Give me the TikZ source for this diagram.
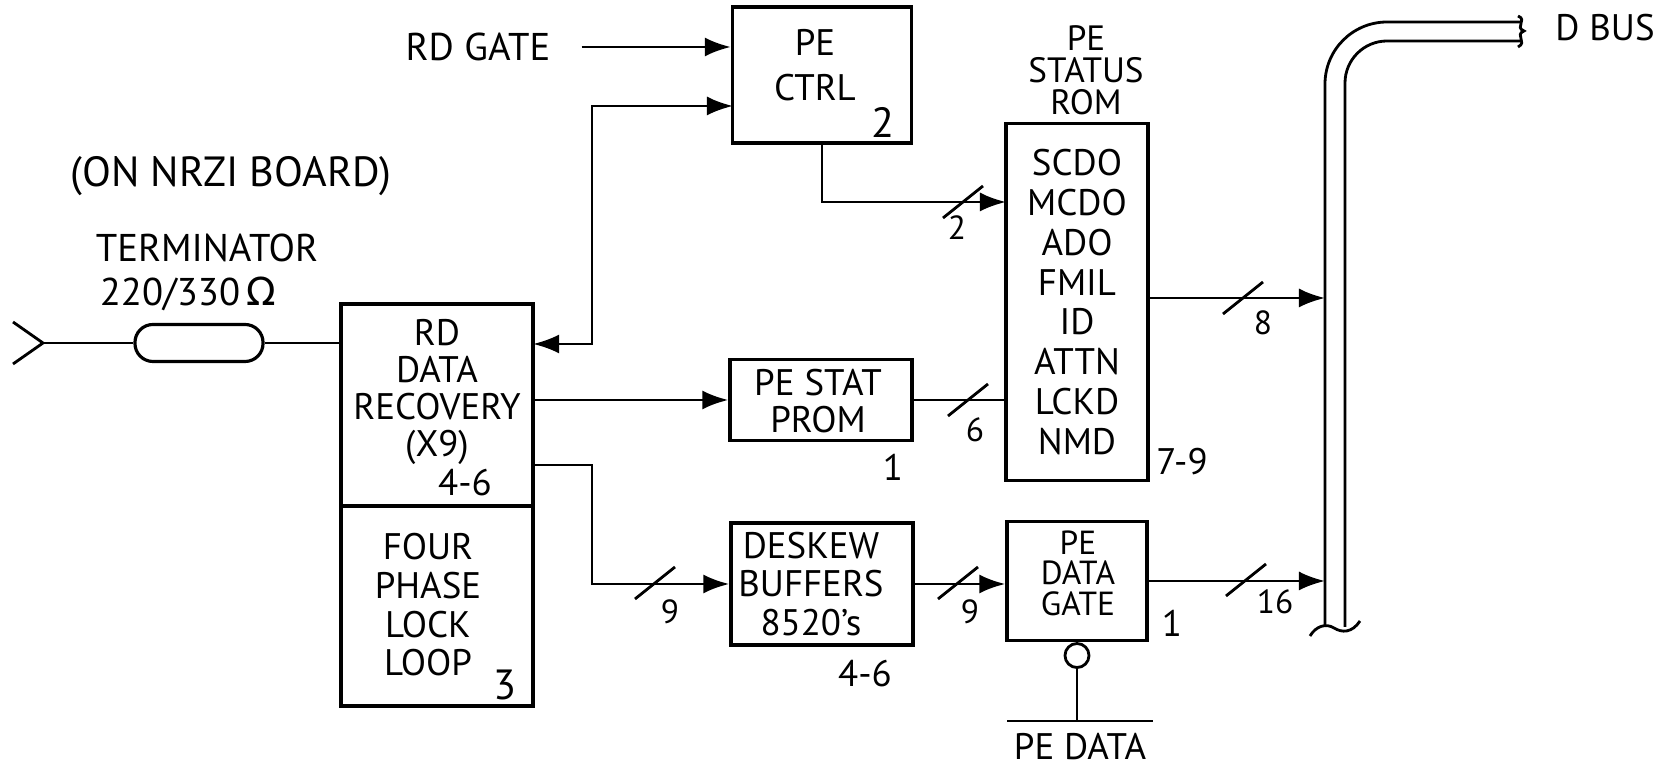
\documentclass[tikz,border=0pt]{standalone}
\usepackage{fontspec}
\setmainfont{PT Sans}
\newfontfamily\omegafont{DejaVu Sans}
\usetikzlibrary{arrows.meta}

\begin{document}
\begin{tikzpicture}[
  x=0.01cm, y=-0.01cm,
  >={Latex[length=2.6mm,width=1.9mm]},
  line width=0.8pt,
  blk/.style={draw, line width=0.9pt, inner sep=0pt},
  txt/.style={align=center, inner sep=0pt, font=\fontsize{10.5}{10.5}\selectfont},
  num/.style={inner sep=0pt, font=\fontsize{10.5}{12}\selectfont},
  bits/.style={inner sep=0pt, font=\fontsize{9.5}{11}\selectfont},
  lbl/.style={inner sep=0pt, font=\fontsize{11}{13}\selectfont},
  sig/.style={->},
  buswd/.pic={\draw (-20,16) -- (20,-16);}
]
  \useasboundingbox (0,0) rectangle (1669,771);

  \node[lbl, font=\fontsize{12}{14}\selectfont] (board) at (231,176) {(ON NRZI BOARD)};
  \node[lbl] (termlbl) at (207,248) {TERMINATOR};
  \node[lbl] (ohms) at (188,294) {220/330\,{\omegafont Ω}};

  \coordinate (inp) at (43,343);
  \draw (13,322) -- (inp) -- (13,364);
  \node[blk, rounded corners=1.8mm, minimum width=1.28cm, minimum height=0.37cm] (term) at (199,343) {};

  \node[blk, minimum width=1.92cm, minimum height=2.02cm] (rdrec) at (437,405) {};
  \node[blk, minimum width=1.92cm, minimum height=2.00cm] (pll) at (437,606) {};
  \node[txt] (rdtxt) at (437,392) {RD\\DATA\\RECOVERY\\(X9)};
  \node[num] (rdnum) at (465,483) {4-6};
  \node[txt, font=\fontsize{10.5}{11}\selectfont] (plltxt) at (428,605) {FOUR\\PHASE\\LOCK\\LOOP};
  \node[num, font=\fontsize{12}{14}\selectfont] (pllnum) at (505,685) {3};
  \draw (inp) -- (term.west);
  \draw (term.east) -- (term.east -| rdrec.west);

  \node[lbl] (rdgate) at (478,47) {RD GATE};
  \node[blk, minimum width=1.79cm, minimum height=1.36cm] (pectrl) at (822,75) {};
  \node[txt, font=\fontsize{10.5}{12.8}\selectfont] (ctrltxt) at (815,65) {PE\\CTRL};
  \node[num, font=\fontsize{12}{14}\selectfont] (ctrlnum) at (883,122) {2};
  \draw[sig, shorten <=0.3cm] (rdgate.east) -- (rdgate.east -| pectrl.west);
  \coordinate (rdport) at (533,344);
  \coordinate (ctlport) at (733,106);
  \draw[<->] (rdport) -- ++(59,0) |- (ctlport);

  \node[txt, font=\fontsize{10}{9.1}\selectfont] (romttl) at (1086,70) {PE\\STATUS\\ROM};
  \node[blk, minimum width=1.42cm, minimum height=3.57cm] (rom) at (1077,302) {};
  \node[txt, font=\fontsize{10.5}{11.3}\selectfont] (romtxt) at (1077,302) {SCDO\\MCDO\\ADO\\FMIL\\ID\\ATTN\\LCKD\\NMD};
  \node[num] (romnum) at (1182,462) {7-9};
  \coordinate (romin) at (1006,202);
  \draw[sig] (pectrl.south) |- (romin);
  \pic at (963,202) {buswd};
  \node[bits] (w2) at (957,228) {2};

  \node[blk, minimum width=1.82cm, minimum height=0.81cm] (prom) at (821,400) {};
  \node[txt] (promtxt) at (818,401) {PE STAT\\PROM};
  \node[num] (promnum) at (893,467) {1};
  \draw[sig] (rdrec.east |- prom.west) -- (prom.west);
  \draw (prom.east) -- (prom.east -| rom.west);
  \pic at (968,400) {buswd};
  \node[bits] (w6) at (975,430) {6};

  \node[blk, minimum width=1.82cm, minimum height=1.22cm] (deskew) at (822,584) {};
  \node[txt, font=\fontsize{10.5}{10.9}\selectfont] (dsktxt) at (811,584) {DESKEW\\BUFFERS\\8520's};
  \node[num] (dsknum) at (865,674) {4-6};
  \coordinate (rdout) at (533,465);
  \draw[sig] (rdout) -- ++(59,0) |- (deskew.west);
  \pic at (655,583) {buswd};
  \node[bits] (w9a) at (670,612) {9};

  \node[blk, minimum width=1.40cm, minimum height=1.19cm] (gate) at (1077,581) {};
  \node[txt, font=\fontsize{9.5}{8.7}\selectfont] (gatetxt) at (1078,573) {PE\\DATA\\GATE};
  \node[num] (gatenum) at (1172,623) {1};
  \draw[sig] (deskew.east) -- (deskew.east -| gate.west);
  \pic at (958,583) {buswd};
  \node[bits] (w9b) at (970,612) {9};
  \node[draw, circle, minimum size=0.24cm, inner sep=0pt, anchor=north] (neg) at (gate.south) {};
  \coordinate (barL) at (1007,721);
  \coordinate (barR) at (1153,721);
  \draw (barL) -- (barR);
  \draw (neg.south) -- (neg.south |- barL);
  \node[lbl, font=\fontsize{10.5}{12}\selectfont] (pedata) at (1080,747) {PE DATA};

  \draw[rounded corners=0.62cm] (1325,627) -- (1325,22) -- (1520,22);
  \draw[rounded corners=0.42cm] (1345,627) -- (1345,41) -- (1520,41);
  \draw (1518,16) .. controls (1528,20) and (1514,27) .. (1524,31) .. controls (1514,35) and (1528,42) .. (1518,47);
  \draw (1310,636) .. controls (1316,626) and (1326,623) .. (1334,628) .. controls (1342,633) and (1352,633) .. (1360,621);
  \node[lbl, font=\fontsize{10.5}{12}\selectfont] (dbus) at (1605,28) {D BUS};
  \coordinate (bus8) at (1325,298);
  \coordinate (bus16) at (1325,579);
  \draw[sig] (rom.east |- bus8) -- (bus8);
  \pic at (1243,298) {buswd};
  \node[bits] (w8) at (1263,323) {8};
  \draw[sig] (gate.east) -- (gate.east -| bus16);
  \pic at (1246,580) {buswd};
  \node[bits] (w16) at (1275,602) {16};
\end{tikzpicture}
\end{document}
